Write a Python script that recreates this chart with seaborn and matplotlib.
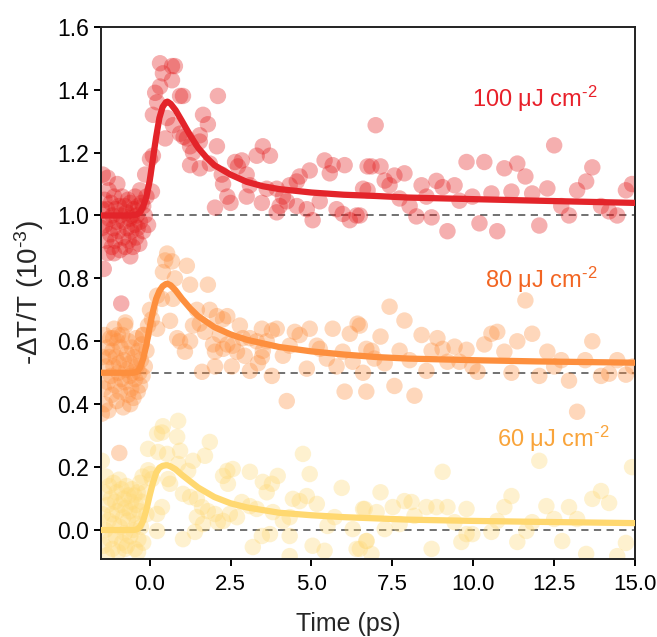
import numpy as np
import pandas as pd
import seaborn as sns
import matplotlib.pyplot as plt

# ---- data ----
# 100 uJ/cm2 (offset 1.0)
red_x = [-1.45, -1.42, -1.40, -1.38, -1.35, -1.32, -1.30, -1.27, -1.25, -1.22, -1.20, -1.17, -1.15, -1.12,
         -1.10, -1.07, -1.05, -1.02, -1.00, -0.97, -0.95, -0.92, -0.90, -0.88, -0.85, -0.82, -0.80, -0.77,
         -0.75, -0.72, -0.70, -0.67, -0.65, -0.62, -0.60, -0.57, -0.55, -0.52, -0.50, -0.47, -0.45, -0.42,
         -0.40, -0.37, -0.35, -0.32, -0.30, -0.25, -0.20, -0.15, -0.10, -0.05, -1.48, -1.47, -1.10, -0.60,
         -0.30, -1.30, -0.20, -0.14, 0.01, 0.07, 0.10,
         0.32, 0.69, 0.78, 0.41, 0.69, 0.32, 0.17, 0.23, 0.94, 1.03, 2.11, 0.10, 0.54, 1.65, 1.80, 0.72,
         0.94, 1.05, 1.15, 0.48, 1.25, 1.34, 1.55, 1.55, 2.08, 1.25, 1.55, 1.86, 2.64, 2.85, 2.73, 3.31,
         3.50, 3.72, 2.23, 2.27, 3.00, 3.10, 2.40, 2.50, 3.00, 3.47, 2.02, 3.62, 3.93, 4.12, 4.33, 4.55,
         4.64, 4.95, 3.93, 4.02, 4.24, 4.55, 4.86, 5.04, 5.41, 5.57, 5.66, 6.03, 5.26, 5.78, 5.97, 6.19,
         6.40, 6.60, 6.74, 6.74, 6.99, 6.86, 7.14, 7.27, 7.42, 7.57, 7.88, 6.50, 7.73, 8.04, 8.25, 8.72,
         8.41, 8.56, 8.87, 9.06, 9.43, 9.21, 9.58, 9.98, 9.80, 10.20, 10.35, 10.57, 10.75, 10.97, 11.37,
         11.62, 11.19, 11.83, 12.05, 12.30, 12.51, 12.73, 12.97, 13.22, 13.50, 13.69, 13.96, 14.21, 14.46,
         14.73, 14.92]
red_y = [1.13, 0.83, 1.05, 0.97, 0.92, 1.02, 0.88, 1.08, 0.99, 0.94, 1.04, 0.90, 1.00, 0.96,
         1.06, 0.92, 1.02, 0.98, 1.10, 0.95, 1.03, 0.89, 1.00, 0.72, 1.06, 0.93, 0.98, 1.03,
         0.90, 1.01, 0.96, 1.05, 0.92, 0.99, 1.04, 0.95, 1.00, 0.90, 1.02, 0.97, 1.06, 0.93,
         1.00, 0.96, 1.03, 0.91, 0.98, 1.04, 0.95, 1.00, 1.06, 0.97, 0.96, 1.02, 0.88, 0.87,
         1.08, 1.12, 1.03, 1.13, 1.18, 1.076, 1.19,
         1.484, 1.475, 1.475, 1.452, 1.43, 1.41, 1.39, 1.36, 1.38, 1.38, 1.38, 1.32, 1.31, 1.32, 1.29, 1.287,
         1.26, 1.25, 1.245, 1.245, 1.22, 1.20, 1.255, 1.235, 1.22, 1.16, 1.15, 1.165, 1.17, 1.175, 1.156, 1.19,
         1.22, 1.19, 1.13, 1.10, 1.13, 1.096, 1.06, 1.04, 1.06, 1.04, 1.025, 1.085, 1.085, 1.06, 1.096, 1.108,
         1.124, 1.143, 1.01, 1.03, 1.045, 1.03, 1.02, 0.985, 1.175, 1.134, 1.16, 1.16, 1.045, 1.02, 1.005, 0.985,
         1.00, 1.085, 1.08, 1.156, 1.287, 1.156, 1.156, 1.111, 1.096, 1.127, 1.134, 1.00, 1.054, 1.03, 0.997, 0.994,
         1.096, 1.06, 1.11, 1.09, 1.096, 0.95, 1.047, 1.06, 1.17, 0.975, 1.17, 1.07, 0.95, 1.15, 1.165,
         1.124, 1.076, 1.07, 0.968, 1.086, 1.223, 1.03, 1.00, 1.08, 1.108, 1.153, 1.03, 1.013, 1.00,
         1.08, 1.10]

# 80 uJ/cm2 (offset 0.5)
orange_x = [-1.45, -1.42, -1.40, -1.38, -1.35, -1.32, -1.30, -1.28, -1.25, -1.22, -1.20, -1.17, -1.15, -1.12,
            -1.10, -1.07, -1.05, -1.02, -1.00, -0.97, -0.95, -0.92, -0.90, -0.87, -0.85, -0.82, -0.80, -0.77,
            -0.75, -0.72, -0.70, -0.67, -0.65, -0.62, -0.60, -0.57, -0.55, -0.52, -0.50, -0.47, -0.45, -0.42,
            -0.40, -0.37, -0.35, -0.32, -0.30, -0.27, -0.25, -0.22, -0.20, -0.15, -0.10, -0.05, -0.94, -1.48,
            -0.60,
            0.54, 0.48, 0.69, 0.41, 0.78, 1.15, 1.80, 1.25, 0.23, 0.38, 0.72, 0.01, 0.07, 0.63, -0.20, 0.23,
            -0.76, -0.98, -1.13, 0.94, 0.85, 1.25, 1.09, 1.46, 1.86, 1.34, 1.55, 1.71, 2.08, 2.27, 2.40, 1.96,
            2.02, 2.27, 2.40, 2.17, 2.79, 2.88, 2.57, 2.70, 2.94, 3.10, 3.31, 3.47, 3.78, 3.93, 3.50, 3.62,
            3.47, 3.35, 1.62, 2.02, 2.54, 3.10, 3.78, 4.12, 4.33, 4.49, 4.64, 4.95, 4.86, 4.24, 5.17, 5.26,
            5.48, 5.78, 5.66, 5.97, 6.28, 6.19, 6.43, 6.03, 6.70, 6.70, 6.60, 6.50, 6.86, 6.95, 7.27, 7.14,
            7.42, 7.57, 7.73, 8.04, 7.88, 8.19, 8.41, 8.56, 8.72, 8.90, 9.06, 9.43, 9.80, 9.21, 9.58, 9.98,
            10.14, 10.35, 10.57, 10.75, 10.97, 11.19, 11.37, 11.83, 11.62, 12.05, 12.30, 12.51, 12.73, 12.97,
            13.22, 13.47, 13.69, 13.96, 14.21, 14.46, 14.73, 14.95]
orange_y = [0.55, 0.45, 0.62, 0.40, 0.52, 0.58, 0.47, 0.38, 0.55, 0.61, 0.49, 0.43, 0.57, 0.52,
            0.64, 0.46, 0.55, 0.41, 0.60, 0.50, 0.53, 0.44, 0.58, 0.48, 0.62, 0.39, 0.54, 0.47,
            0.66, 0.51, 0.56, 0.43, 0.60, 0.49, 0.53, 0.45, 0.58, 0.50, 0.42, 0.55, 0.48, 0.61,
            0.52, 0.44, 0.57, 0.50, 0.46, 0.54, 0.59, 0.49, 0.62, 0.52, 0.57, 0.65, 0.245, 0.37,
            0.40,
            0.879, 0.857, 0.854, 0.82, 0.80, 0.84, 0.78, 0.78, 0.745, 0.735, 0.735, 0.70, 0.67, 0.665, 0.62, 0.64,
            0.65, 0.62, 0.61, 0.60, 0.61, 0.60, 0.567, 0.70, 0.70, 0.65, 0.656, 0.63, 0.68, 0.67, 0.68, 0.59,
            0.567, 0.576, 0.59, 0.62, 0.65, 0.61, 0.586, 0.567, 0.554, 0.61, 0.60, 0.64, 0.634, 0.64, 0.57, 0.60,
            0.55, 0.53, 0.503, 0.52, 0.52, 0.506, 0.49, 0.554, 0.586, 0.63, 0.62, 0.64, 0.513, 0.41, 0.586, 0.576,
            0.545, 0.52, 0.64, 0.567, 0.535, 0.624, 0.656, 0.44, 0.576, 0.44, 0.50, 0.65, 0.57, 0.545, 0.53, 0.615,
            0.71, 0.458, 0.57, 0.54, 0.666, 0.427, 0.62, 0.506, 0.57, 0.61, 0.576, 0.583, 0.573, 0.535, 0.535, 0.52,
            0.503, 0.59, 0.624, 0.63, 0.567, 0.50, 0.60, 0.624, 0.73, 0.49, 0.567, 0.52, 0.54, 0.475,
            0.376, 0.54, 0.60, 0.49, 0.497, 0.54, 0.494, 0.52]

# 60 uJ/cm2 (offset 0)
yellow_x = [-1.48, -1.45, -1.42, -1.40, -1.37, -1.35, -1.32, -1.30, -1.27, -1.25, -1.22, -1.20, -1.17, -1.15,
            -1.12, -1.10, -1.07, -1.05, -1.02, -1.00, -0.97, -0.95, -0.92, -0.90, -0.87, -0.85, -0.82, -0.80,
            -0.77, -0.75, -0.72, -0.70, -0.67, -0.65, -0.62, -0.60, -0.57, -0.55, -0.52, -0.50, -0.47, -0.45,
            -0.42, -0.40, -0.37, -0.35, -0.32, -0.30, -0.27, -0.25, -0.22, -0.20, -0.15, -0.10, -0.05, -0.76,
            -0.36,
            0.88, 0.41, 0.23, 0.38, 0.85, 1.86, -0.05, 0.26, 0.54, 0.94, 1.71, 1.34, 0.88, 1.19, 0.01, 0.07,
            0.57, 0.63, 2.27, 2.40, 2.57, 3.10, 2.42, 3.50, 3.78, 3.96, 3.62, 4.74, 4.95, 5.94, 4.43, 4.64,
            4.86, 5.17, 6.65, 1.03, 1.25, 1.46, 0.38, 0.23, 1.62, 1.80, 1.46, 1.65, 2.02, 2.11, 2.27, 2.48,
            2.70, 2.85, 3.10, 3.31, 3.81, 4.12, 4.33, 0.23, 1.03, 1.40, 3.19, 3.47, 3.72, 4.33, 4.33, 5.04,
            5.41, 5.50, 5.72, 6.28, 6.40, 6.71,
            9.06, 12.05, 14.92, 7.14, 6.60, 7.02, 7.52, 7.88, 8.10, 8.56, 8.87, 9.21, 7.27, 7.73, 8.19, 9.43,
            9.80, 9.98, 10.57, 10.75, 10.97, 11.19, 11.65, 11.83, 12.27, 12.51, 12.97, 13.22, 13.69, 13.96,
            14.21, 6.70, 6.86, 6.50, 8.72, 9.64, 11.37, 12.76, 13.50, 14.46, 14.73, 9.80]
yellow_y = [0.22, 0.05, -0.05, 0.12, 0.00, 0.17, -0.08, 0.08, 0.03, 0.14, -0.03, 0.10, 0.05, -0.06,
            0.15, 0.02, 0.09, -0.02, 0.12, 0.06, -0.07, 0.16, 0.01, 0.08, 0.13, -0.04, 0.04, 0.10,
            -0.01, 0.07, 0.14, -0.05, 0.03, 0.11, 0.06, -0.02, 0.09, 0.13, 0.00, 0.05, 0.11, -0.06,
            0.08, 0.02, 0.12, -0.03, 0.06, 0.15, 0.01, 0.09, 0.17, -0.04, 0.12, 0.05, 0.19, -0.06,
            -0.07,
            0.347, 0.33, 0.306, 0.31, 0.296, 0.28, 0.258, 0.248, 0.242, 0.252, 0.236, 0.22, 0.21, 0.188, 0.178, 0.162,
            0.162, 0.147, 0.172, 0.188, 0.194, 0.185, 0.147, 0.153, 0.147, 0.172, 0.12, 0.242, 0.178, 0.134, 0.099, 0.092,
            0.108, 0.083, 0.067, 0.115, 0.105, 0.099, 0.073, 0.051, 0.073, 0.06, 0.041, 0.019, 0.051, 0.025, 0.029, 0.051,
            0.041, 0.089, 0.076, 0.067, 0.057, 0.029, 0.041, -0.003, -0.029, -0.006, -0.054, -0.019, -0.013, -0.019, -0.083, -0.05,
            -0.066, 0.013, 0.041, 0.003, -0.06, -0.035,
            0.185, 0.22, 0.20, 0.12, 0.067, 0.057, 0.073, 0.092, 0.089, 0.073, 0.073, 0.073, 0.003, 0.019, 0.045, 0.025,
            -0.013, -0.013, -0.006, 0.029, 0.073, 0.108, -0.003, 0.025, 0.076, 0.035, 0.073, 0.035, 0.099, 0.124,
            0.086, -0.035, -0.076, -0.06, -0.06, -0.038, -0.038, -0.035, -0.076, -0.083, -0.041, 0.067]

# fitted curves
red_fit_x = [-1.5, -0.6, -0.4, -0.3, -0.2, -0.1, 0.0, 0.1, 0.2, 0.3, 0.4, 0.5, 0.55, 0.65, 0.8, 1.0, 1.25,
             1.5, 1.75, 2.0, 2.5, 3.0, 3.5, 4.0, 5.0, 6.0, 7.0, 8.0, 10.0, 12.0, 15.0]
red_fit_y = [1.0, 1.0, 1.003, 1.01, 1.03, 1.06, 1.11, 1.18, 1.25, 1.31, 1.345, 1.36, 1.362, 1.355, 1.335, 1.30,
             1.255, 1.215, 1.185, 1.16, 1.13, 1.107, 1.093, 1.084, 1.073, 1.066, 1.062, 1.057, 1.052, 1.047, 1.04]
orange_fit_x = [-1.5, -0.5, -0.4, -0.3, -0.2, -0.1, 0.0, 0.1, 0.2, 0.3, 0.4, 0.5, 0.55, 0.65, 0.8, 1.0, 1.25,
                1.5, 2.0, 2.5, 3.0, 4.0, 5.0, 6.0, 7.0, 8.0, 10.0, 12.0, 15.0]
orange_fit_y = [0.5, 0.5, 0.503, 0.515, 0.545, 0.59, 0.645, 0.695, 0.735, 0.76, 0.775, 0.782, 0.783, 0.778,
                0.762, 0.735, 0.705, 0.68, 0.645, 0.622, 0.605, 0.582, 0.568, 0.558, 0.55, 0.545, 0.54, 0.536, 0.532]
yellow_fit_x = [-1.5, -0.5, -0.4, -0.3, -0.2, -0.1, 0.0, 0.1, 0.2, 0.3, 0.4, 0.5, 0.55, 0.65, 0.8, 1.0, 1.5,
                2.0, 2.5, 3.0, 4.0, 5.0, 6.0, 7.0, 8.0, 10.0, 12.0, 15.0]
yellow_fit_y = [0.0, 0.0, 0.002, 0.01, 0.03, 0.065, 0.11, 0.15, 0.182, 0.198, 0.204, 0.206, 0.206, 0.202,
                0.193, 0.175, 0.135, 0.105, 0.085, 0.072, 0.055, 0.047, 0.041, 0.037, 0.033, 0.029, 0.026, 0.022]

baselines = [0.0, 0.5, 1.0]
labels = [r"100 μJ cm$^{\text{-}2}$", r"80 μJ cm$^{\text{-}2}$", r"60 μJ cm$^{\text{-}2}$"]

# ---- style ----
sns.set_theme(style="ticks")
plt.rcParams["font.family"] = ["Liberation Sans", "DejaVu Sans"]
plt.rcParams["mathtext.fontset"] = "custom"
plt.rcParams["mathtext.rm"] = "Liberation Sans"
plt.rcParams["mathtext.it"] = "Liberation Sans"

fig = plt.figure(figsize=(6.57, 6.37), dpi=100)
ax = fig.add_axes([0.154, 0.1225, 0.812, 0.8355])

series = [
    (yellow_x, yellow_y, yellow_fit_x, yellow_fit_y, "#fed976", "#ffd870"),
    (orange_x, orange_y, orange_fit_x, orange_fit_y, "#fd8d3c", "#fd8f3e"),
    (red_x, red_y, red_fit_x, red_fit_y, "#e31a1c", "#e3242a"),
]

for b in baselines:
    ax.axhline(b, color="#666666", ls=(0, (4, 3)), lw=1.3, zorder=1)

for sx, sy, fx, fy, mc, lc in series:
    sns.scatterplot(x=sx, y=sy, ax=ax, color=mc, s=140, alpha=0.35,
                    edgecolor="none", linewidth=0, zorder=2)
for sx, sy, fx, fy, mc, lc in series:
    sns.lineplot(x=fx, y=fy, ax=ax, color=lc, lw=4.5, sort=False,
                 estimator=None, zorder=3)

# labels of the fluences
ax.text(13.84, 1.37, labels[0], color="#e8202a", fontsize=17, ha="right", va="center")
ax.text(13.84, 0.795, labels[1], color="#f26522", fontsize=17, ha="right", va="center")
ax.text(14.21, 0.29, labels[2], color="#f9a43a", fontsize=17, ha="right", va="center")

ax.set_xlim(-1.5, 15)
ax.set_ylim(-0.092, 1.6)
ax.set_xticks([0, 2.5, 5, 7.5, 10, 12.5, 15])
ax.set_xticklabels(["0.0", "2.5", "5.0", "7.5", "10.0", "12.5", "15.0"], fontsize=16)
ax.set_yticks([0.0, 0.2, 0.4, 0.6, 0.8, 1.0, 1.2, 1.4, 1.6])
ax.set_yticklabels(["0.0", "0.2", "0.4", "0.6", "0.8", "1.0", "1.2", "1.4", "1.6"], fontsize=16.5)
ax.tick_params(direction="out", length=5, width=1.4, color="black", labelcolor="black")
ax.tick_params(axis="x", pad=6)
for sp in ax.spines.values():
    sp.set_visible(True)
    sp.set_color("#222222")
    sp.set_linewidth(1.4)

ax.set_xlabel("Time (ps)", fontsize=18)
ax.xaxis.set_label_coords(0.4625, -0.099)
ax.set_ylabel(r"-ΔT/T (10$^{\text{-}3}$)", fontsize=20, labelpad=8)

fig.savefig("out.png", dpi=100)
